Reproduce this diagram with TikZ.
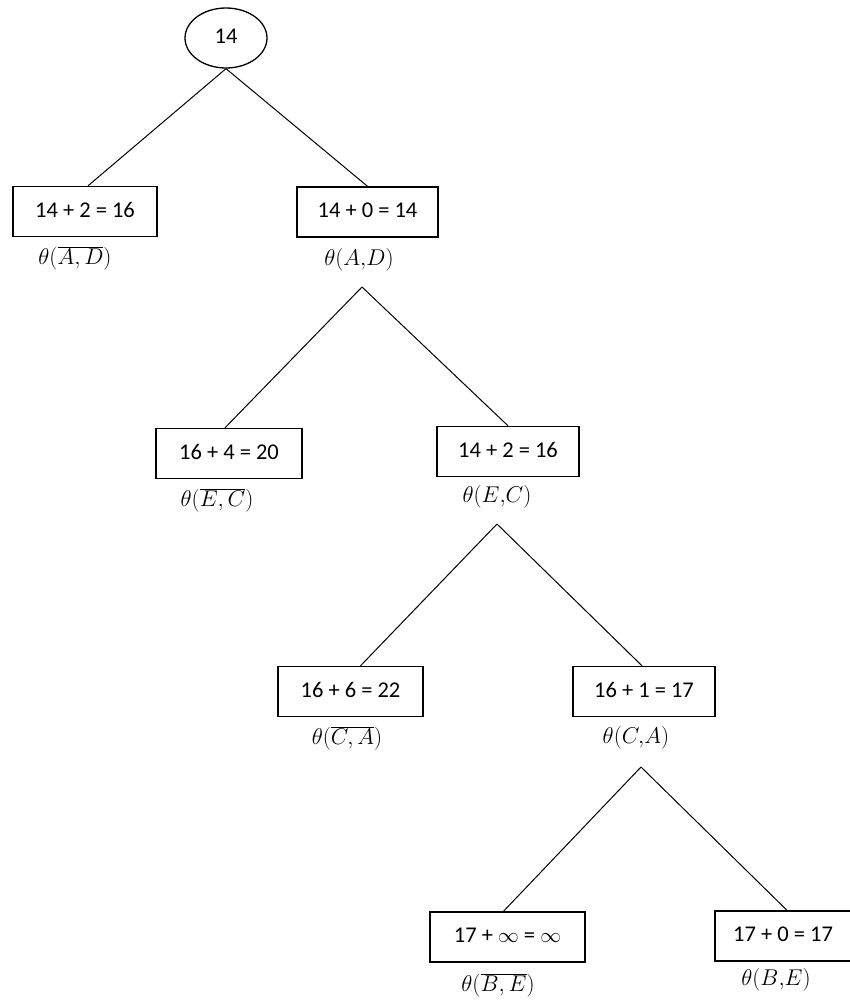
\documentclass[tikz,border=0pt]{standalone}
\usepackage{fontspec}
\setmainfont{Carlito}
\usetikzlibrary{shapes.geometric}
\newcommand{\lbltext}[1]{\scalebox{1.1}{$#1$}}
\begin{document}
\begin{tikzpicture}[x=1pt,y=-1pt,
  valbox/.style={draw,line width=1.4pt,rectangle,minimum height=50pt,inner sep=0pt,font=\fontsize{22.5}{26}\selectfont},
  rootnode/.style={draw,line width=1.3pt,ellipse,minimum width=82pt,minimum height=60pt,inner sep=0pt,font=\fontsize{22.5}{26}\selectfont},
  lbl/.style={inner sep=0pt,font=\fontsize{20.74}{24}\selectfont},
  edge/.style={line width=1pt}]
\useasboundingbox (0,0) rectangle (849,1004);
\node[rootnode] (root) at (226,38) {\raisebox{4pt}{14}};
\node[valbox,minimum width=144pt] (b1) at (85,211.5) {\raisebox{3pt}{14 + 2 = 16}};
\node[valbox,minimum width=141pt] (b2) at (367.5,212) {\raisebox{3pt}{14 + 0 = 14}};
\node[lbl] (l1) at (75,258) {\lbltext{\theta(\overline{A,D})}};
\node[lbl] (l2) at (359,260) {\lbltext{\theta(A,\!D)}};
\coordinate (p2) at (362,287);
\node[valbox,minimum width=146pt] (b3) at (229,453.5) {\raisebox{3pt}{16 + 4 = 20}};
\node[valbox,minimum width=142pt] (b4) at (508,451.5) {\raisebox{3pt}{14 + 2 = 16}};
\node[lbl] (l3) at (217,500) {\lbltext{\theta(\overline{E,C})}};
\node[lbl] (l4) at (497,497) {\lbltext{\theta(E,\!C)}};
\coordinate (p4) at (497,524);
\node[valbox,minimum width=145pt] (b5) at (350.5,691.5) {\raisebox{3pt}{16 + 6 = 22}};
\node[valbox,minimum width=142pt] (b6) at (644,691.5) {\raisebox{3pt}{16 + 1 = 17}};
\node[lbl] (l5) at (347,738) {\lbltext{\theta(\overline{C,A})}};
\node[lbl] (l6) at (636,738) {\lbltext{\theta(C,\!A)}};
\coordinate (p6) at (641,767);
\node[valbox,minimum width=155pt] (b7) at (507.5,937) {\raisebox{3pt}{17 + $\infty$ = $\infty$}};
\node[valbox,minimum width=170pt] (b8) at (800,936) {\raisebox{3pt}{17 + 0 = 17}\rule{34pt}{0pt}};
\node[lbl] (l7) at (498,985) {\lbltext{\theta(\overline{B,E})}};
\node[lbl] (l8) at (776,980) {\lbltext{\theta(B,\!E)}};
\draw[edge] (root.south) -- ([xshift=3pt]b1.north);
\draw[edge] (root.south) -- (b2.north);
\draw[edge] (p2) -- ([xshift=-4pt]b3.north);
\draw[edge] (p2) -- (b4.north);
\draw[edge] (p4) -- ([xshift=10pt]b5.north);
\draw[edge] (p4) -- ([xshift=-2pt]b6.north);
\draw[edge] (p6) -- ([xshift=-4pt]b7.north);
\draw[edge] (p6) -- ([xshift=-13pt]b8.north);
\end{tikzpicture}
\end{document}
